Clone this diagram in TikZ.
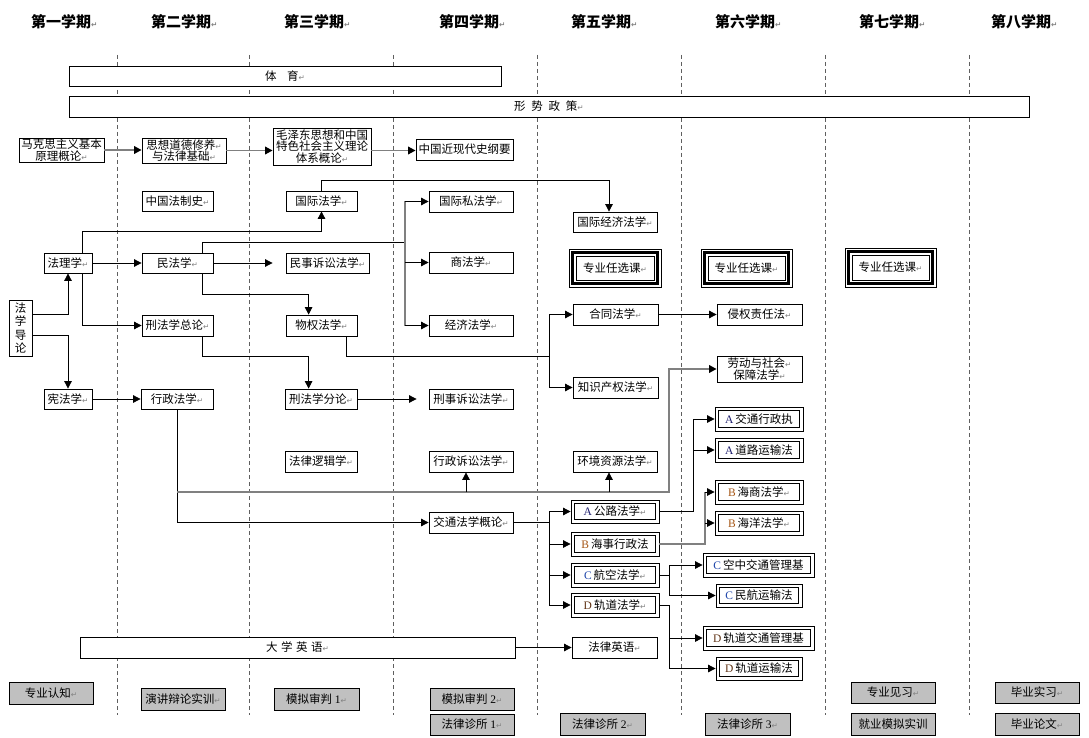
\documentclass[tikz,border=0pt]{standalone}
\usepackage{fontspec}
\setmainfont{Noto Sans CJK SC}
\newfontfamily\lat{Liberation Serif}
\newfontfamily\djv{DejaVu Sans}
\usetikzlibrary{arrows.meta,calc}
\definecolor{fillg}{RGB}{192,192,192}
\definecolor{lineg}{RGB}{128,128,128}
\definecolor{dashg}{RGB}{95,95,95}
\definecolor{retg}{RGB}{130,130,130}
\definecolor{cA}{RGB}{30,30,110}
\definecolor{cB}{RGB}{165,85,20}
\definecolor{cC}{RGB}{30,70,170}
\definecolor{cD}{RGB}{95,50,20}
\newcommand\retm{{\djv\fontsize{7.5}{7.5}\selectfont\color{retg}↵}}
\newcommand\LA{{\lat\color{cA}A}\hspace{2pt}}
\newcommand\LB{{\lat\color{cB}B}\hspace{2pt}}
\newcommand\LC{{\lat\color{cC}C}\hspace{2pt}}
\newcommand\LD{{\lat\color{cD}D}\hspace{2pt}}
\newcommand\bx[7][]{\node[box,minimum width={(#4-#2)*1pt},minimum height={(#5-#3)*1pt},#1] (#6) at ({(#2+#4)/2},{(#3+#5)/2}) {#7};}
\begin{document}
\begin{tikzpicture}[x=1pt,y=-1pt,
  box/.style={draw,line width=0.8pt,fill=white,inner sep=0pt,align=center,font=\fontsize{11.5}{12}\selectfont},
  gbox/.style={box,fill=fillg},
  dbox/.style={box,path picture={\draw[line width=1.7pt] ([shift={(3.4pt,-3.4pt)}]path picture bounding box.north west) rectangle ([shift={(-3.4pt,3.4pt)}]path picture bounding box.south east);}},
  tbox/.style={box,path picture={\draw[line width=2.6pt] ([shift={(3.3pt,-3.3pt)}]path picture bounding box.north west) rectangle ([shift={(-3.3pt,3.3pt)}]path picture bounding box.south east);
     \draw[line width=0.8pt] ([shift={(7pt,-7pt)}]path picture bounding box.north west) rectangle ([shift={(-7pt,7pt)}]path picture bounding box.south east);}},
  hdr/.style={anchor=west,inner sep=0pt,font=\bfseries\fontsize{15}{15}\selectfont},
  dsh/.style={draw=dashg,line width=0.9pt,dash pattern=on 4pt off 3pt},
  line/.style={draw,line width=0.8pt},
  gline/.style={draw=lineg,line width=1.8pt},
  arr/.style={line,-{Triangle[length=7.5pt,width=7.5pt]}},
  garr/.style={gline,-{Triangle[length=7.5pt,width=7.5pt,color=black]}}
]
\fill[white] (0,0) rectangle (1089,738);
\useasboundingbox (0,0) rectangle (1089,738);

% semester separators
\foreach \xx in {117,249,393,537,681,825,969} \draw[dsh] (\xx,55) -- (\xx,715);

% headers
\node[hdr] (h1) at (31,22) {第一学期\retm};
\node[hdr] (h2) at (151,22) {第二学期\retm};
\node[hdr] (h3) at (284,22) {第三学期\retm};
\node[hdr] (h4) at (439,22) {第四学期\retm};
\node[hdr] (h5) at (571,22) {第五学期\retm};
\node[hdr] (h6) at (715,22) {第六学期\retm};
\node[hdr] (h7) at (859,22) {第七学期\retm};
\node[hdr] (h8) at (991,22) {第八学期\retm};

% boxes
\bx{69}{66}{501}{86}{ty}{体\hspace{0.9em}育\retm}
\bx{69}{96}{1029}{117}{xszc}{形\hspace{0.5em}势\hspace{0.5em}政\hspace{0.5em}策\retm}
\bx[font=\fontsize{11.5}{11.5}\selectfont]{19}{138}{104}{162}{mks}{马克思主义基本\\原理概论\retm}
\bx[font=\fontsize{11.5}{11.5}\selectfont]{142}{138}{226}{163}{sx}{思想道德修养\retm\\与法律基础\retm}
\bx[font=\fontsize{11.5}{11.8}\selectfont]{273}{128}{371}{165}{mzd}{毛泽东思想和中国\\特色社会主义理论\\体系概论\retm}
\bx{416}{139}{513}{160}{zgjx}{中国近现代史纲要}
\bx{142}{191}{213}{211}{zgfzs}{中国法制史\retm}
\bx{286}{191}{357}{211}{gjf}{国际法学\retm}
\bx{429}{191}{513}{212}{gjsf}{国际私法学\retm}
\bx{573}{212}{657}{232}{gjjj}{国际经济法学\retm}
\bx{44}{253}{92}{273}{flx}{法理学\retm}
\bx{142}{253}{213}{273}{mfx}{民法学\retm}
\bx{286}{253}{369}{273}{mss}{民事诉讼法学\retm}
\bx{429}{252}{513}{273}{sfx}{商法学\retm}
\bx[tbox]{569}{249}{661}{287}{rx5}{专业任选课\retm}
\bx[tbox]{701}{249}{792}{287}{rx6}{专业任选课\retm}
\bx[tbox]{845}{248}{936}{287}{rx7}{专业任选课\retm}
\bx[font=\fontsize{11.5}{13.5}\selectfont]{9}{300}{32}{356}{fxdl}{法\\学\\导\\论}
\bx{142}{315}{213}{336}{xfzl}{刑法学总论\retm}
\bx{286}{315}{357}{336}{wq}{物权法学\retm}
\bx{429}{315}{513}{336}{jjf}{经济法学\retm}
\bx{573}{304}{658}{325}{ht}{合同法学\retm}
\bx{717}{304}{802}{325}{qq}{侵权责任法\retm}
\bx[font=\fontsize{11.5}{11.5}\selectfont]{717}{356}{802}{382}{ld}{劳动与社会\retm\\保障法学\retm}
\bx{44}{389}{92}{409}{xf}{宪法学\retm}
\bx{141}{389}{213}{409}{xz}{行政法学\retm}
\bx{285}{389}{357}{409}{xffl}{刑法学分论\retm}
\bx{429}{389}{513}{409}{xsss}{刑事诉讼法学\retm}
\bx{573}{377}{658}{398}{zscq}{知识产权法学\retm}
\bx{285}{451}{357}{472}{ljx}{法律逻辑学\retm}
\bx{429}{451}{513}{472}{xzss}{行政诉讼法学\retm}
\bx{573}{451}{657}{472}{hj}{环境资源法学\retm}
\bx[dbox]{715}{407}{803}{431}{Ajt}{\LA 交通行政执}
\bx[dbox]{715}{438}{803}{462}{Adl}{\LA 道路运输法}
\bx[dbox]{715}{480}{803}{504}{Bhs}{\LB 海商法学\retm}
\bx[dbox]{715}{511}{803}{535}{Bhy}{\LB 海洋法学\retm}
\bx{429}{512}{513}{533}{jt}{交通法学概论\retm}
\bx[dbox]{571}{500}{659}{523}{Agl}{\LA 公路法学\retm}
\bx[dbox]{571}{532}{659}{556}{Bhx}{\LB 海事行政法}
\bx[dbox]{571}{563}{659}{587}{Chk}{\LC 航空法学\retm}
\bx[dbox]{571}{593}{659}{617}{Dgd}{\LD 轨道法学\retm}
\bx[dbox]{703}{553}{814}{577}{Ckz}{\LC 空中交通管理基}
\bx[dbox]{716}{584}{802}{607}{Cmh}{\LC 民航运输法}
\bx[dbox]{703}{626}{814}{650}{Dgj}{\LD 轨道交通管理基}
\bx[dbox]{716}{657}{802}{680}{Dys}{\LD 轨道运输法}
\bx{80}{637}{515}{658}{dxyy}{大\hspace{0.3em}学\hspace{0.3em}英\hspace{0.3em}语\retm}
\bx{572}{637}{657}{658}{flyy}{法律英语\retm}
% practical training (gray)
\bx[gbox]{9}{682}{93}{704}{zyrz}{专业认知\retm}
\bx[gbox]{141}{688}{225}{710}{yjbl}{演讲辩论实训\retm}
\bx[gbox]{274}{688}{359}{710}{mn1}{模拟审判 {\lat 1}\retm}
\bx[gbox]{430}{688}{514}{710}{mn2}{模拟审判 {\lat 2}\retm}
\bx[gbox]{430}{714}{514}{735}{zs1}{法律诊所 {\lat 1}\retm}
\bx[gbox]{560}{713}{645}{735}{zs2}{法律诊所 {\lat 2}\retm}
\bx[gbox]{705}{713}{790}{735}{zs3}{法律诊所 {\lat 3}\retm}
\bx[gbox]{851}{682}{935}{703}{zyjx}{专业见习\retm}
\bx[gbox]{851}{713}{935}{735}{jymn}{就业模拟实训}
\bx[gbox]{995}{682}{1079}{703}{bysx}{毕业实习\retm}
\bx[gbox]{995}{713}{1079}{735}{bylw}{毕业论文\retm}

% connectors
\draw[garr] (mks.east) -- (mks.east -| sx.west);
\draw[garr] (sx.east) -- (sx.east -| mzd.west);
\draw[garr] (sx.east -| mzd.east) -- (sx.east -| zgjx.west);

\draw[arr] (gjf.north) -- ++(0,-10) -| ($(gjjj.north)+(-6,0)$);
\draw[arr] ($(flx.north east)+(-10,0)$) -- ++(0,-21) -| (gjf.south);
\draw[arr] (flx.east) -- (mfx.west);
\draw[arr] (mfx.east) -- ([xshift=-13pt]mss.west);

\coordinate (busA) at (405,242);
\draw[line] ($(mfx.north east)+(-11,0)$) |- (busA);
\draw[gline] (busA |- gjsf.west) -- (busA |- jjf.west);
\draw[arr] (busA |- gjsf.west) -- (gjsf.west);
\draw[arr] (busA |- sfx.west) -- (sfx.west);
\draw[arr] (busA |- jjf.west) -- (jjf.west);

\draw[arr] ($(mfx.south east)+(-11,0)$) -- ++(0,21) -| ($(wq.north west)+(23,0)$);
\draw[arr] ($(flx.south east)+(-10,0)$) |- (xfzl.west);
\draw[arr] ($(fxdl.east)+(0,-14)$) -| (flx.south);
\draw[arr] ($(fxdl.east)+(0,7)$) -| (xf.north);
\draw[arr] (xf.east) -- (xz.west);
\draw[arr] ($(xfzl.south east)+(-11,0)$) -- ++(0,20) -| ($(xffl.north west)+(24,0)$);

\coordinate (busB) at (549,356);
\draw[line] ($(wq.south east)+(-11,0)$) |- (busB);
\draw[line] (busB |- ht.west) -- (busB |- zscq.west);
\draw[arr] (busB |- ht.west) -- (ht.west);
\draw[arr] (busB |- zscq.west) -- (zscq.west);
\draw[arr] (ht.east) -- (qq.west);
\draw[arr] (xffl.east) -- ([xshift=-12pt]xsss.west);

\draw[arr] (xz.south) |- (jt.west);
\coordinate (g492) at (669,492);
\draw[garr] (xz.south |- g492) -- (g492) |- (ld.west);
\draw[arr] ($(xzss.south |- g492)+(-5,0)$) -- ($(xzss.south)+(-5,0)$);
\draw[arr] ($(hj.south |- g492)+(-6,0)$) -- ($(hj.south)+(-6,0)$);

\coordinate (busC) at (549,523);
\draw[line] (jt.east) -- (jt.east -| busC);
\draw[line] (busC |- Agl.west) -- (busC |- Dgd.west);
\foreach \n in {Agl,Bhx,Chk,Dgd} \draw[arr] (busC |- \n.west) -- (\n.west);

\coordinate (busD) at (693,419);
\draw[line] (Agl.east) -| (busD |- Ajt.west);
\draw[arr] (busD |- Ajt.west) -- (Ajt.west);
\draw[arr] (busD |- Adl.west) -- (Adl.west);

\coordinate (busE) at (705,492);
\draw[gline] (Bhx.east) -| (busE |- Bhs.west);
\draw[arr] (busE |- Bhs.west) -- (Bhs.west);
\draw[arr] (busE |- Bhy.west) -- (Bhy.west);

\coordinate (busF) at (669,600);
\draw[line] (Chk.east) -- (Chk.east -| busF);
\draw[line] (busF |- Ckz.west) -- (busF |- Cmh.west);
\draw[arr] (busF |- Ckz.west) -- (Ckz.west);
\draw[arr] (busF |- Cmh.west) -- (Cmh.west);
\draw[line] (Dgd.east) -| (busF |- Dys.west);
\draw[arr] (busF |- Dgj.west) -- (Dgj.west);
\draw[arr] (busF |- Dys.west) -- (Dys.west);

\draw[arr] (dxyy.east) -- (flyy.west);
\end{tikzpicture}
\end{document}
